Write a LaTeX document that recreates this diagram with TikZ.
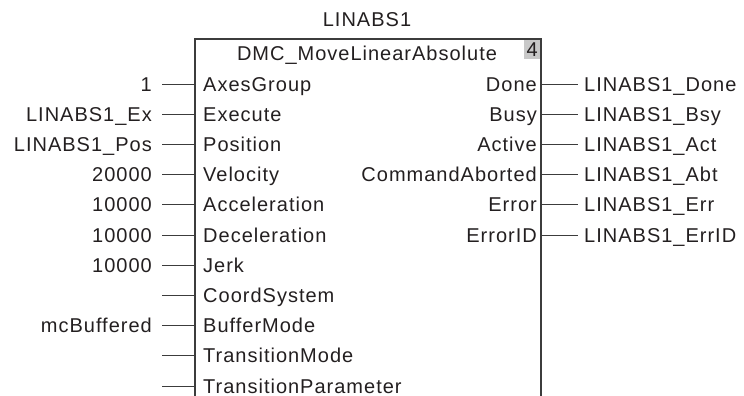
\documentclass[tikz,border=0pt]{standalone}
\usepackage{fontspec}
\setmainfont[LetterSpace=5]{Liberation Sans}
\usetikzlibrary{positioning,calc}
\definecolor{Tx}{HTML}{231F20}
\definecolor{Wc}{HTML}{3C3C3C}
\definecolor{Gy}{HTML}{C8C8C8}
\newcommand{\fbfont}{\fontsize{20}{24}\selectfont}
\tikzset{
  lbl/.style={text=Tx, font=\fbfont, inner ysep=0pt, text height=14pt, text depth=0pt},
  pinin/.style={lbl, anchor=west, inner xsep=8pt},
  pinout/.style={lbl, anchor=east, inner xsep=4pt},
  valin/.style={lbl, anchor=east, inner xsep=10pt},
  valout/.style={lbl, anchor=west, inner xsep=6pt},
  wire/.style={draw=Wc, line width=0.9pt},
  frame/.style={draw=Wc, line width=1.1pt},
}
\newcommand{\rowY}[1]{84+30.2*#1}

\begin{document}
\begin{tikzpicture}[x=1pt,y=-1pt]
  \useasboundingbox (0,0) rectangle (744,396);
  % instance name and block header
  \node[lbl, inner sep=0pt] (inst) at (367,20) {LINABS1};
  \node[lbl, fill=Gy, inner xsep=3pt, minimum height=20pt, anchor=north east] (num) at (541,39) {4};
  \node[lbl, inner sep=0pt] (fbname) at (367,54) {DMC\_MoveLinearAbsolute};
  \draw[frame] (195,396) |- (541,39) -- (541,396);
  % inputs
  \foreach \i/\pin/\val in {0/AxesGroup/1, 1/Execute/LINABS1\_Ex, 2/Position/LINABS1\_Pos,
      3/Velocity/20000, 4/Acceleration/10000, 5/Deceleration/10000, 6/Jerk/10000,
      7/CoordSystem/, 8/BufferMode/mcBuffered, 9/TransitionMode/, 10/TransitionParameter/}{
    \node[pinin] (pi\i) at (195,{\rowY{\i}}) {\pin};
    \node[valin] (vi\i) at (162,{\rowY{\i}}) {\val};
    \draw[wire] (vi\i.east) -- (pi\i.west);
  }
  % outputs
  \foreach \i/\pin/\val in {0/Done/LINABS1\_Done, 1/Busy/LINABS1\_Bsy, 2/Active/LINABS1\_Act,
      3/CommandAborted/LINABS1\_Abt, 4/Error/LINABS1\_Err, 5/ErrorID/LINABS1\_ErrID}{
    \node[pinout] (po\i) at (541,{\rowY{\i}}) {\pin};
    \node[valout] (vo\i) at (578,{\rowY{\i}}) {\val};
    \draw[wire] (po\i.east) -- (vo\i.west);
  }
\end{tikzpicture}
\end{document}
